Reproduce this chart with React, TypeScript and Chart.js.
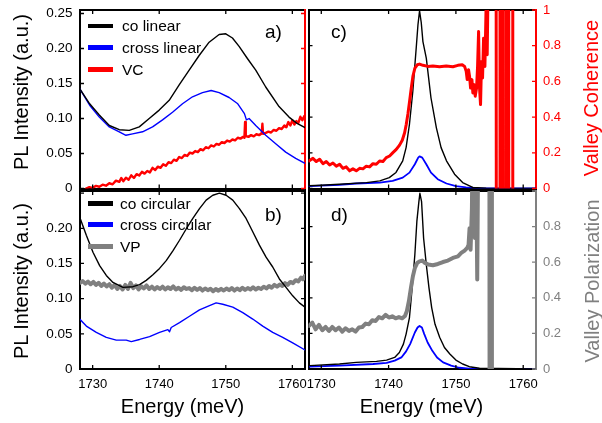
import React, { useEffect, useRef } from "react";
import { Chart, registerables } from "chart.js";

Chart.register(...registerables);

type Pt = [number, number];

const W = 602;
const H = 423;
const FONT = '"Liberation Sans", Arial, Helvetica, sans-serif';

const X_MIN = 1728.1;
const X_MAX = 1761.9;
const ENERGY_TICKS = [1730, 1740, 1750, 1760];
const PL_TICKS_A = [0, 0.05, 0.1, 0.15, 0.2, 0.25];
const PL_TICKS_B = [0, 0.05, 0.1, 0.15, 0.2, 0.25];
const PL_LABELS_B = [0, 0.05, 0.1, 0.15, 0.2];
const FRAC_TICKS = [0, 0.2, 0.4, 0.6, 0.8, 1];
const FRAC_LABELS_D = [0, 0.2, 0.4, 0.6, 0.8];

const RED = "#ff0000";
const BLUE = "#0000ff";
const GRAY = "#808080";
const BLACK = "#000000";

// Panel a) linear polarisation, broad emission
const CO_LIN_A: Pt[] = [
  [1728.05, 0.1426], [1729.55, 0.121], [1731.0, 0.105], [1732.5, 0.09], [1734.0, 0.084],
  [1735.5, 0.083], [1737.0, 0.088], [1738.5, 0.1], [1740.0, 0.112], [1741.5, 0.126],
  [1743.0, 0.148], [1744.5, 0.169], [1746.0, 0.19], [1747.5, 0.209], [1749.0, 0.22],
  [1750.0, 0.221], [1751.0, 0.215], [1752.0, 0.203], [1753.3, 0.185], [1754.5, 0.169],
  [1756.0, 0.145], [1758.0, 0.117], [1759.5, 0.102], [1760.7, 0.093], [1761.9, 0.087],
];
const CROSS_LIN_A: Pt[] = [
  [1728.05, 0.1426], [1729.55, 0.119], [1731.0, 0.102], [1732.5, 0.088], [1734.0, 0.081],
  [1735.0, 0.076], [1736.0, 0.078], [1737.5, 0.081], [1739.0, 0.088], [1740.5, 0.098],
  [1742.0, 0.109], [1743.5, 0.121], [1745.0, 0.131], [1746.5, 0.137], [1747.8, 0.14],
  [1749.0, 0.137], [1750.5, 0.13], [1751.8, 0.121], [1752.8, 0.107], [1753.1, 0.098],
  [1753.5, 0.1], [1754.5, 0.09], [1756.0, 0.076], [1757.5, 0.064], [1759.0, 0.052],
  [1760.5, 0.043], [1761.9, 0.036],
];
const VC_A: Pt[] = [
  [1729.0, 0.0], [1729.5, 0.008], [1730.0, 0.004], [1730.5, 0.015], [1731.0, 0.01],
  [1731.5, 0.022], [1732.0, 0.016], [1732.5, 0.03], [1733.0, 0.024], [1733.5, 0.045],
  [1734.0, 0.038], [1734.3, 0.06], [1734.6, 0.042], [1735.0, 0.062], [1735.4, 0.05],
  [1735.8, 0.075], [1736.2, 0.06], [1736.6, 0.082], [1737.0, 0.074], [1737.4, 0.095],
  [1737.8, 0.085], [1738.2, 0.1], [1738.6, 0.092], [1739.0, 0.118], [1739.4, 0.106],
  [1739.8, 0.125], [1740.2, 0.118], [1740.6, 0.138], [1741.0, 0.13], [1741.4, 0.15],
  [1741.8, 0.145], [1742.2, 0.165], [1742.6, 0.158], [1743.0, 0.18], [1743.4, 0.174],
  [1743.8, 0.192], [1744.2, 0.186], [1744.6, 0.205], [1745.0, 0.2], [1745.4, 0.214],
  [1745.8, 0.208], [1746.2, 0.225], [1746.6, 0.218], [1747.0, 0.236], [1747.4, 0.23],
  [1747.8, 0.246], [1748.2, 0.24], [1748.6, 0.255], [1749.0, 0.25], [1749.4, 0.265],
  [1749.8, 0.26], [1750.2, 0.274], [1750.6, 0.268], [1751.0, 0.28], [1751.4, 0.275],
  [1751.8, 0.29], [1752.2, 0.285], [1752.6, 0.295], [1752.8, 0.29], [1752.9, 0.38],
  [1753.0, 0.3], [1753.4, 0.295], [1753.8, 0.305], [1754.2, 0.298], [1754.6, 0.31],
  [1755.0, 0.305], [1755.4, 0.315], [1755.5, 0.37], [1755.6, 0.312], [1756.0, 0.318],
  [1756.4, 0.325], [1756.8, 0.32], [1757.2, 0.335], [1757.6, 0.33], [1758.0, 0.345],
  [1758.4, 0.34], [1758.8, 0.36], [1759.1, 0.35], [1759.4, 0.38], [1759.7, 0.36],
  [1760.0, 0.39], [1760.3, 0.365], [1760.6, 0.385], [1760.9, 0.375], [1761.2, 0.41],
  [1761.5, 0.39], [1761.8, 0.415],
];

// Panel b) circular polarisation, broad emission
const CO_CIRC_B: Pt[] = [
  [1728.05, 0.216], [1729.05, 0.19], [1730.05, 0.166], [1731.05, 0.147], [1732.05, 0.133],
  [1733.05, 0.123], [1734.55, 0.116], [1736.05, 0.117], [1737.05, 0.12], [1738.05, 0.126],
  [1739.05, 0.134], [1740.05, 0.143], [1741.05, 0.154], [1742.05, 0.168], [1743.05, 0.183],
  [1744.05, 0.199], [1745.05, 0.214], [1746.05, 0.228], [1747.05, 0.24], [1748.05, 0.247],
  [1749.05, 0.25], [1750.05, 0.247], [1751.05, 0.24], [1752.05, 0.228], [1753.05, 0.214],
  [1754.05, 0.195], [1755.05, 0.176], [1756.05, 0.159], [1757.05, 0.145], [1758.05, 0.128],
  [1759.05, 0.116], [1760.05, 0.104], [1761.05, 0.094], [1761.9, 0.088],
];
const CROSS_CIRC_B: Pt[] = [
  [1728.05, 0.071], [1729.05, 0.061], [1730.55, 0.052], [1732.05, 0.045], [1733.55, 0.041],
  [1735.05, 0.041], [1735.8, 0.039], [1737.05, 0.042], [1738.55, 0.046], [1740.05, 0.052],
  [1741.3, 0.056], [1741.55, 0.053], [1741.8, 0.059], [1743.05, 0.066], [1744.55, 0.075],
  [1746.05, 0.084], [1747.55, 0.09], [1748.55, 0.094], [1749.55, 0.092], [1751.05, 0.088],
  [1752.55, 0.08], [1754.05, 0.071], [1755.55, 0.061], [1757.05, 0.052], [1758.55, 0.045],
  [1760.05, 0.037], [1761.9, 0.027],
];
const VP_B: Pt[] = [
  [1728.1, 0.49], [1728.5, 0.5], [1728.9, 0.485], [1729.3, 0.497], [1729.7, 0.482],
  [1730.1, 0.495], [1730.5, 0.478], [1730.9, 0.49], [1731.3, 0.472], [1731.7, 0.486],
  [1732.1, 0.47], [1732.5, 0.482], [1732.9, 0.462], [1733.3, 0.478], [1733.7, 0.455],
  [1734.1, 0.472], [1734.5, 0.452], [1734.9, 0.478], [1735.3, 0.455], [1735.7, 0.49],
  [1736.1, 0.46], [1736.5, 0.475], [1736.9, 0.452], [1737.3, 0.47], [1737.7, 0.458],
  [1738.1, 0.475], [1738.5, 0.455], [1738.9, 0.468], [1739.3, 0.452], [1739.7, 0.466],
  [1740.1, 0.455], [1740.5, 0.468], [1740.9, 0.452], [1741.3, 0.465], [1741.7, 0.455],
  [1742.1, 0.47], [1742.5, 0.452], [1742.9, 0.462], [1743.3, 0.45], [1743.7, 0.465],
  [1744.1, 0.455], [1744.5, 0.46], [1744.9, 0.448], [1745.3, 0.462], [1745.7, 0.45],
  [1746.1, 0.46], [1746.5, 0.446], [1746.9, 0.458], [1747.3, 0.448], [1747.7, 0.456],
  [1748.1, 0.442], [1748.5, 0.455], [1748.9, 0.445], [1749.3, 0.456], [1749.7, 0.446],
  [1750.1, 0.458], [1750.5, 0.448], [1750.9, 0.46], [1751.3, 0.446], [1751.7, 0.458],
  [1752.1, 0.448], [1752.5, 0.462], [1752.9, 0.45], [1753.3, 0.46], [1753.7, 0.452],
  [1754.1, 0.465], [1754.5, 0.452], [1754.9, 0.462], [1755.3, 0.455], [1755.7, 0.468],
  [1756.1, 0.458], [1756.5, 0.472], [1756.9, 0.462], [1757.3, 0.478], [1757.7, 0.468],
  [1758.1, 0.48], [1758.5, 0.472], [1758.9, 0.488], [1759.3, 0.478], [1759.7, 0.495],
  [1760.1, 0.488], [1760.5, 0.505], [1760.9, 0.498], [1761.3, 0.52], [1761.6, 0.51],
  [1761.9, 0.53],
];

// Panel c) linear polarisation, narrow emission (normalised)
const CO_LIN_C: Pt[] = [
  [1728.2, 0.015], [1730.0, 0.018], [1732.7, 0.024], [1736.7, 0.033], [1738.7, 0.043],
  [1740.1, 0.061], [1741.1, 0.09], [1742.1, 0.155], [1742.6, 0.229], [1743.1, 0.36],
  [1743.6, 0.545], [1744.1, 0.786], [1744.36, 0.916], [1744.6, 0.995], [1744.85, 0.93],
  [1745.1, 0.823], [1745.6, 0.73], [1746.3, 0.507], [1747.1, 0.34], [1747.8, 0.229],
  [1748.6, 0.155], [1749.8, 0.08], [1751.0, 0.033], [1752.5, 0.006], [1754.5, 0.001],
  [1761.9, 0.0],
];
const CROSS_LIN_C: Pt[] = [
  [1728.2, 0.013], [1732.7, 0.02], [1735.2, 0.028], [1738.7, 0.033], [1740.6, 0.043],
  [1742.1, 0.061], [1743.1, 0.089], [1743.9, 0.136], [1744.4, 0.173], [1744.6, 0.18],
  [1745.0, 0.173], [1745.6, 0.136], [1746.3, 0.089], [1747.3, 0.052], [1748.6, 0.028],
  [1750.0, 0.013], [1751.5, 0.006], [1753.5, 0.002], [1761.9, 0.0],
];
const VC_C: Pt[] = [
  [1728.17, 0.154], [1728.76, 0.169], [1729.26, 0.151], [1729.75, 0.164], [1730.25, 0.139],
  [1730.74, 0.151], [1731.24, 0.132], [1731.73, 0.143], [1732.23, 0.125], [1732.72, 0.136],
  [1733.22, 0.113], [1733.71, 0.121], [1734.21, 0.099], [1734.7, 0.11], [1735.2, 0.099],
  [1735.69, 0.113], [1736.19, 0.11], [1736.68, 0.125], [1737.18, 0.121], [1737.67, 0.139],
  [1738.17, 0.136], [1738.66, 0.154], [1739.16, 0.151], [1739.65, 0.173], [1740.15, 0.182],
  [1740.64, 0.201], [1741.14, 0.219], [1741.63, 0.243], [1742.03, 0.27], [1742.38, 0.312],
  [1742.62, 0.359], [1742.87, 0.418], [1743.12, 0.489], [1743.37, 0.563], [1743.61, 0.628],
  [1743.91, 0.675], [1744.26, 0.693], [1744.6, 0.697], [1745.1, 0.69], [1745.84, 0.684],
  [1746.58, 0.686], [1747.57, 0.682], [1748.56, 0.686], [1749.55, 0.682], [1750.3, 0.69],
  [1750.94, 0.693], [1751.29, 0.684], [1751.53, 0.656], [1751.68, 0.61], [1751.88, 0.665],
  [1752.03, 0.628], [1752.18, 0.563], [1752.38, 0.61], [1752.52, 0.535], [1752.72, 0.582],
  [1752.87, 0.517], [1753.07, 0.563], [1753.22, 0.684], [1753.37, 0.879], [1753.51, 0.563],
  [1753.66, 0.47], [1753.81, 0.712], [1753.96, 0.619], [1754.11, 0.842], [1754.31, 0.684],
  [1754.5, 1.05], [1754.65, 0.749], [1754.8, 1.2], [1754.95, 2.5], [1755.95, 3],
  [1756.05, -3], [1756.45, -3], [1756.55, 3], [1756.85, 3], [1756.95, -3], [1757.35, -3],
  [1757.45, 3], [1757.75, 3], [1757.85, -3], [1758.35, -3], [1758.45, 3], [1759.0, 3],
];

// Panel d) circular polarisation, narrow emission (normalised)
const CO_CIRC_D: Pt[] = [
  [1728.3, 0.019], [1732.7, 0.028], [1735.2, 0.037], [1738.2, 0.043], [1739.7, 0.05],
  [1740.9, 0.065], [1741.6, 0.093], [1742.2, 0.14], [1742.6, 0.196], [1743.1, 0.289],
  [1743.5, 0.456], [1743.9, 0.642], [1744.2, 0.829], [1744.5, 0.94], [1744.65, 0.987],
  [1744.9, 0.94], [1745.2, 0.736], [1745.6, 0.587], [1746.0, 0.456], [1746.4, 0.345],
  [1746.9, 0.251], [1747.6, 0.177], [1748.3, 0.121], [1749.1, 0.084], [1750.0, 0.05],
  [1751.0, 0.028], [1752.0, 0.013], [1753.5, 0.004], [1761.9, 0.0],
];
const CROSS_CIRC_D: Pt[] = [
  [1728.3, 0.013], [1732.7, 0.019], [1737.7, 0.028], [1739.7, 0.034], [1740.9, 0.047],
  [1741.9, 0.065], [1742.6, 0.099], [1743.2, 0.14], [1743.9, 0.205], [1744.3, 0.233],
  [1744.6, 0.242], [1744.95, 0.233], [1745.3, 0.196], [1745.8, 0.149], [1746.5, 0.102],
  [1747.2, 0.065], [1748.1, 0.037], [1749.3, 0.019], [1750.5, 0.007], [1752.0, 0.002],
  [1761.9, 0.0],
];
const VP_D: Pt[] = [
  [1728.17, 0.242], [1728.66, 0.261], [1729.16, 0.223], [1729.65, 0.248], [1730.15, 0.218],
  [1730.64, 0.236], [1731.14, 0.214], [1731.63, 0.236], [1732.13, 0.218], [1732.62, 0.233],
  [1733.12, 0.21], [1733.61, 0.229], [1734.11, 0.214], [1734.6, 0.223], [1735.1, 0.21],
  [1735.59, 0.233], [1736.09, 0.236], [1736.58, 0.255], [1737.08, 0.251], [1737.57, 0.274],
  [1738.07, 0.27], [1738.56, 0.292], [1739.06, 0.285], [1739.55, 0.304], [1740.05, 0.289],
  [1740.54, 0.296], [1741.04, 0.285], [1741.53, 0.292], [1742.03, 0.285], [1742.43, 0.298],
  [1742.72, 0.326], [1743.02, 0.382], [1743.32, 0.456], [1743.61, 0.521], [1743.91, 0.568],
  [1744.26, 0.596], [1744.6, 0.605], [1745.0, 0.609], [1745.4, 0.596], [1745.89, 0.587],
  [1746.58, 0.583], [1747.33, 0.59], [1748.07, 0.601], [1748.81, 0.609], [1749.55, 0.624],
  [1750.3, 0.633], [1750.79, 0.652], [1751.29, 0.665], [1751.68, 0.68], [1751.88, 0.698],
  [1752.03, 0.791], [1752.18, 0.67], [1752.38, 0.903], [1752.52, 1.5], [1752.67, 0.847],
  [1752.82, 0.736], [1752.97, 1.3], [1753.17, 0.503], [1753.32, 1.3], [1754.95, 3],
  [1755.05, -3], [1755.25, -3], [1755.35, 3], [1756.0, 3],
];

const LEGEND_A = ["co linear", "cross linear", "VC"];
const LEGEND_B = ["co circular", "cross circular", "VP"];

type Area = { l: number; t: number; r: number; b: number };

const inwardTicks = {
  id: "inwardTicks",
  afterDatasetsDraw(chart: any) {
    const { ctx, chartArea: ca } = chart;
    const TL = 4;
    ctx.save();
    for (const s of Object.values(chart.scales) as any[]) {
      ctx.strokeStyle = s.options.border.color;
      ctx.lineWidth = 1.3;
      ctx.beginPath();
      for (const t of s.ticks) {
        const p = s.getPixelForValue(t.value);
        const pos = s.options.position;
        if (pos === "left") { ctx.moveTo(ca.left, p); ctx.lineTo(ca.left + TL, p); }
        else if (pos === "right") { ctx.moveTo(ca.right, p); ctx.lineTo(ca.right - TL, p); }
        else if (pos === "top") { ctx.moveTo(p, ca.top); ctx.lineTo(p, ca.top + TL); }
        else { ctx.moveTo(p, ca.bottom); ctx.lineTo(p, ca.bottom - TL); }
      }
      ctx.stroke();
    }
    ctx.restore();
  },
};

interface AxisSpec {
  pos: "left" | "right" | "top" | "bottom";
  area: Area;
  min: number;
  max: number;
  ticks: number[];
  labels?: number[];
  border: string;
  labelColor?: string;
  size?: number;
  pad?: number;
  fmt?: (v: number) => string;
}

// Each axis box fills the space between its plot edge and the canvas edge,
// so the plot area lands exactly on the requested rectangle.
function axis(a: AxisSpec) {
  const horiz = a.pos === "top" || a.pos === "bottom";
  const shown = a.labels || [];
  const boxSize =
    a.pos === "left" ? a.area.l :
    a.pos === "right" ? W - a.area.r :
    a.pos === "top" ? a.area.t : H - a.area.b;
  return {
    type: "linear",
    position: a.pos,
    min: a.min,
    max: a.max,
    grid: { display: false, drawTicks: false },
    border: { display: true, color: a.border, width: 2 },
    ticks: {
      display: shown.length > 0,
      color: a.labelColor || BLACK,
      padding: a.pad ?? 7,
      font: { family: FONT, size: a.size ?? 13 },
      autoSkip: false,
      maxRotation: 0,
      minRotation: 0,
      callback: (v: number) => {
        if (!shown.some((s) => Math.abs(s - v) < 1e-9)) return "";
        return a.fmt ? a.fmt(v) : String(v);
      },
    },
    afterBuildTicks: (s: any) => {
      s.ticks = a.ticks.map((v) => ({ value: v }));
    },
    afterFit: (s: any) => {
      if (horiz) s.height = boxSize;
      else s.width = boxSize;
      s.paddingLeft = 0;
      s.paddingRight = 0;
      s.paddingTop = 0;
      s.paddingBottom = 0;
    },
  };
}

function ds(points: Pt[], color: string, width: number, yAxisID: string) {
  return {
    data: points.map(([x, y]) => ({ x, y })),
    borderColor: color,
    backgroundColor: color,
    borderWidth: width,
    pointRadius: 0,
    fill: false,
    tension: 0,
    borderJoinStyle: "round",
    borderCapStyle: "round",
    xAxisID: "x",
    yAxisID,
  };
}

function config(datasets: any[], scales: any) {
  return {
    type: "line",
    data: { datasets },
    options: {
      responsive: false,
      animation: false,
      devicePixelRatio: 1,
      events: [],
      layout: { autoPadding: false, padding: 0 },
      plugins: { legend: { display: false }, tooltip: { enabled: false } },
      scales,
    },
    plugins: [inwardTicks],
  } as any;
}

const plFmt = (v: number) => (v === 0 ? "0" : v.toFixed(2));

const AREA_A: Area = { l: 80, t: 10, r: 305, b: 188.5 };
const AREA_B: Area = { l: 80, t: 191, r: 305, b: 369 };
const AREA_C: Area = { l: 308.5, t: 10, r: 536, b: 188.5 };
const AREA_D: Area = { l: 308.5, t: 191, r: 536, b: 369 };

function Legend({ labels, colors, widths, ys, textLeft }: { labels: string[]; colors: string[]; widths: number[]; ys: number[]; textLeft: number }) {
  return (
    <>
      {labels.map((lab, i) => (
        <div key={lab} style={{ position: "absolute", left: 88, top: ys[i] - 10, height: 20, display: "flex", alignItems: "center" }}>
          <div style={{ width: 25, height: widths[i], background: colors[i] }} />
          <span style={{ marginLeft: textLeft - 113, fontSize: 15.5, lineHeight: "20px", whiteSpace: "nowrap", color: BLACK }}>{lab}</span>
        </div>
      ))}
    </>
  );
}

function RotTitle({ text, cx, cy, color }: { text: string; cx: number; cy: number; color: string }) {
  const w = 220;
  return (
    <div style={{ position: "absolute", left: cx - w / 2, top: cy - 10, width: w, height: 20, lineHeight: "20px", fontSize: 20, textAlign: "center", whiteSpace: "nowrap", color, transform: "rotate(-90deg)" }}>
      {text}
    </div>
  );
}

export default function App() {
  const ra = useRef<HTMLCanvasElement>(null);
  const rb = useRef<HTMLCanvasElement>(null);
  const rc = useRef<HTMLCanvasElement>(null);
  const rd = useRef<HTMLCanvasElement>(null);

  useEffect(() => {
    const charts: Chart[] = [];
    const xAxes = (area: Area, labeled: boolean) => ({
      x: axis({ pos: "bottom", area, min: X_MIN, max: X_MAX, ticks: ENERGY_TICKS, labels: labeled ? ENERGY_TICKS : [], border: BLACK, size: 13, pad: 8 }),
      x2: axis({ pos: "top", area, min: X_MIN, max: X_MAX, ticks: ENERGY_TICKS, border: BLACK }),
    });

    charts.push(
      new Chart(ra.current!, config([
        ds(CO_LIN_A, BLACK, 1.4, "y"),
        ds(CROSS_LIN_A, BLUE, 1.4, "y"),
        ds(VC_A, RED, 2.4, "y2"),
      ], {
        ...xAxes(AREA_A, false),
        y: axis({ pos: "left", area: AREA_A, min: 0, max: 0.255, ticks: PL_TICKS_A, labels: PL_TICKS_A, border: BLACK, size: 13.5, pad: 7.5, fmt: plFmt }),
        y2: axis({ pos: "right", area: AREA_A, min: 0, max: 1.02, ticks: FRAC_TICKS, border: RED }),
      }))
    );
    charts.push(
      new Chart(rb.current!, config([
        ds(CO_CIRC_B, BLACK, 1.4, "y"),
        ds(CROSS_CIRC_B, BLUE, 1.4, "y"),
        ds(VP_B, GRAY, 4, "y2"),
      ], {
        ...xAxes(AREA_B, true),
        y: axis({ pos: "left", area: AREA_B, min: 0, max: 0.253, ticks: PL_TICKS_B, labels: PL_LABELS_B, border: BLACK, size: 13.5, pad: 7.5, fmt: plFmt }),
        y2: axis({ pos: "right", area: AREA_B, min: 0, max: 1.012, ticks: FRAC_TICKS, border: BLACK }),
      }))
    );
    charts.push(
      new Chart(rc.current!, config([
        ds(VC_C, RED, 3, "y2"),
        ds(CO_LIN_C, BLACK, 1.4, "y"),
        ds(CROSS_LIN_C, BLUE, 1.8, "y"),
      ], {
        ...xAxes(AREA_C, false),
        y: axis({ pos: "left", area: AREA_C, min: 0, max: 1, ticks: FRAC_TICKS, border: BLACK }),
        y2: axis({ pos: "right", area: AREA_C, min: 0, max: 1, ticks: FRAC_TICKS, labels: FRAC_TICKS, border: RED, labelColor: RED, size: 13, pad: 7 }),
      }))
    );
    charts.push(
      new Chart(rd.current!, config([
        ds(VP_D, GRAY, 4, "y2"),
        ds(CO_CIRC_D, BLACK, 1.4, "y"),
        ds(CROSS_CIRC_D, BLUE, 1.8, "y"),
      ], {
        ...xAxes(AREA_D, true),
        y: axis({ pos: "left", area: AREA_D, min: 0, max: 1, ticks: FRAC_TICKS, border: BLACK }),
        y2: axis({ pos: "right", area: AREA_D, min: 0, max: 1, ticks: FRAC_TICKS, labels: FRAC_LABELS_D, border: GRAY, labelColor: GRAY, size: 13, pad: 7 }),
      }))
    );
    return () => charts.forEach((c) => c.destroy());
  }, []);

  const cv: React.CSSProperties = { position: "absolute", left: 0, top: 0, width: W, height: H };

  return (
    <div style={{ position: "fixed", left: 0, top: 0, width: W, height: H, background: "#fff", overflow: "hidden", fontFamily: FONT, color: BLACK }}>
      <canvas ref={ra} width={W} height={H} style={cv} />
      <canvas ref={rb} width={W} height={H} style={cv} />
      <canvas ref={rc} width={W} height={H} style={cv} />
      <canvas ref={rd} width={W} height={H} style={cv} />

      <Legend labels={LEGEND_A} colors={[BLACK, BLUE, RED]} widths={[4.5, 4.5, 4.5]} ys={[26, 47.5, 69.5]} textLeft={122} />
      <Legend labels={LEGEND_B} colors={[BLACK, BLUE, GRAY]} widths={[4.5, 4.5, 5.5]} ys={[203.5, 224.5, 246.5]} textLeft={120} />

      <div style={{ position: "absolute", left: 265, top: 21.5, fontSize: 19, lineHeight: "19px" }}>a)</div>
      <div style={{ position: "absolute", left: 265, top: 205, fontSize: 19, lineHeight: "19px" }}>b)</div>
      <div style={{ position: "absolute", left: 331, top: 21.5, fontSize: 19, lineHeight: "19px" }}>c)</div>
      <div style={{ position: "absolute", left: 331, top: 205, fontSize: 19, lineHeight: "19px" }}>d)</div>

      <RotTitle text="PL Intensity (a.u.)" cx={20.6} cy={92} color={BLACK} />
      <RotTitle text="PL Intensity (a.u.)" cx={20.6} cy={281} color={BLACK} />
      <RotTitle text="Valley Coherence" cx={590.7} cy={97.5} color={RED} />
      <RotTitle text="Valley Polarization" cx={592.4} cy={280.5} color={GRAY} />

      <div style={{ position: "absolute", left: 182.5 - 80, top: 395.7, width: 160, height: 20, lineHeight: "20px", fontSize: 20, textAlign: "center", whiteSpace: "nowrap" }}>Energy (meV)</div>
      <div style={{ position: "absolute", left: 421.5 - 80, top: 395.7, width: 160, height: 20, lineHeight: "20px", fontSize: 20, textAlign: "center", whiteSpace: "nowrap" }}>Energy (meV)</div>
    </div>
  );
}
